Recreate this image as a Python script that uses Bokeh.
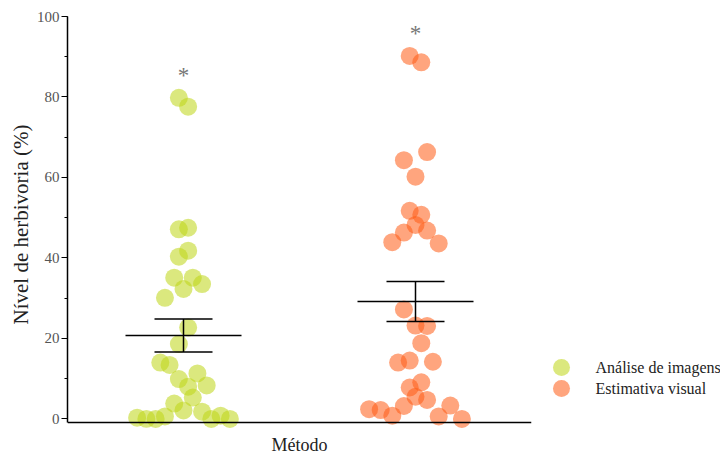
from bokeh.plotting import figure
from bokeh.layouts import row
from bokeh.models import Range1d, Span, Title, FixedTicker
from bokeh.core.properties import value
from bokeh.embed import file_html
from bokeh.resources import INLINE

# Herbivory level (%) per leaf, by assessment method
methods = ["Análise de imagens", "Estimativa visual"]
analise_imagens = [0.3, 0.0, 0.0, 0.6, 3.8, 2.1, 5.3, 1.8, 0.0, 0.8, 0.0,
                   14.0, 13.4, 9.9, 8.0, 11.3, 8.3,
                   18.6, 22.7,
                   30.1, 35.1, 32.3, 35.1, 33.5,
                   40.3, 41.8,
                   47.1, 47.5,
                   79.8, 77.6]
estimativa_visual = [2.4, 2.2, 0.8, 3.2, 5.5, 4.7, 0.6, 3.3, 0.0,
                     7.8, 9.1,
                     14.0, 14.5, 18.8, 14.2,
                     27.2, 23.2, 23.1,
                     43.9, 46.3, 48.2, 46.8, 43.6,
                     51.7, 50.7,
                     64.3, 60.2, 66.3,
                     90.2, 88.6]
significance = ["*", "*"]
y_ticks = [0, 20, 40, 60, 80, 100]

FONT = "'Liberation Serif'"
GREEN = "#bed514"
ORANGE = "#ff5b14"
ALPHA = 0.55
colors = [GREEN, ORANGE]
groups = [analise_imagens, estimativa_visual]
centers = [0.5, 1.5]


def swarm(vals, center, bin_width=6.15, spread=0.4):
    """Bin values into rows and spread each row symmetrically around center."""
    order = sorted(range(len(vals)), key=lambda i: (vals[i], i))
    rows, i = [], 0
    while i < len(order):
        start = vals[order[i]]
        r = []
        while i < len(order) and vals[order[i]] < start + bin_width:
            r.append(order[i])
            i += 1
        rows.append(sorted(r))
    nmax = max(len(r) for r in rows)
    step = spread / (nmax - 1)
    xs = [center] * len(vals)
    for r in rows:
        n = len(r)
        for k, idx in enumerate(r):
            xs[idx] = center + (k - (n - 1) / 2) * step
    return xs


def mean_sem(vals):
    n = len(vals)
    m = sum(vals) / n
    sd = (sum((v - m) ** 2 for v in vals) / (n - 1)) ** 0.5
    return m, sd / n ** 0.5


axis_y = -0.9
top_px, bottom_px, axis_px = 16, 432, 422
scale = (axis_px - top_px) / (100 - axis_y)
y_start = 100 - (bottom_px - top_px) / scale

p = figure(width=540, height=454, x_range=Range1d(0, 2),
           y_range=Range1d(y_start, 100), x_axis_location=None,
           toolbar_location=None, output_backend="svg",
           min_border_left=67, min_border_right=9,
           min_border_top=top_px, min_border_bottom=454 - bottom_px)
p.outline_line_color = None
p.grid.visible = False
p.background_fill_color = "white"

for vals, c, col in zip(groups, centers, colors):
    xs = swarm(vals, c)
    p.scatter(xs, vals, size=18, fill_color=col, fill_alpha=ALPHA, line_color=None)
    m, se = mean_sem(vals)
    p.segment([c - 0.25, c - 0.125, c - 0.125, c], [m, m + se, m - se, m - se],
              [c + 0.25, c + 0.125, c + 0.125, c], [m, m + se, m - se, m + se],
              line_color="black", line_width=1.5)

p.text(centers, [max(g) + 5.5 for g in groups], text=significance,
       text_font=value(FONT), text_font_size="23px", text_color="#777777",
       text_align="center", text_baseline="alphabetic")

# x axis line and its title
p.add_layout(Span(location=axis_y, dimension="width", line_color="black", line_width=1.5))
p.add_layout(Title(text="Método", align="center", text_font=FONT,
                   text_font_size="18px", text_font_style="normal",
                   text_color="#222222", standoff=0), "below")

ya = p.yaxis[0]
ya.bounds = (axis_y, 100)
ya.ticker = FixedTicker(ticks=y_ticks, minor_ticks=list(range(0, 101, 10)))
ya.axis_line_width = 1.5
ya.axis_line_color = "black"
ya.major_tick_out = 6
ya.major_tick_in = 0
ya.minor_tick_out = 3
ya.minor_tick_in = 0
ya.major_tick_line_width = 1.2
ya.minor_tick_line_width = 1.2
ya.major_label_standoff = 2
ya.major_label_text_font = FONT
ya.major_label_text_font_size = "15px"
ya.major_label_text_color = "#555555"
ya.axis_label = "Nível de herbivoria (%)"
ya.axis_label_text_font = FONT
ya.axis_label_text_font_size = "21px"
ya.axis_label_text_font_style = "normal"
ya.axis_label_text_color = "#222222"
ya.axis_label_standoff = 1

# legend panel
lg = figure(width=180, height=454, x_range=Range1d(0, 180), y_range=Range1d(454, 0),
            x_axis_location=None, y_axis_location=None, toolbar_location=None,
            output_backend="svg", min_border=0)
lg.outline_line_color = None
lg.grid.visible = False
ly = [383 + 23 * k for k in range(len(methods))]
lg.scatter([21] * len(methods), ly, size=17, fill_color=colors, fill_alpha=ALPHA,
           line_color=None)
lg.text([55] * len(methods), ly, text=methods, text_font=value(FONT),
        text_font_size="16px", text_color="#222222", text_baseline="middle")

layout = row(p, lg)
open("out.html", "w").write(file_html(layout, INLINE))
